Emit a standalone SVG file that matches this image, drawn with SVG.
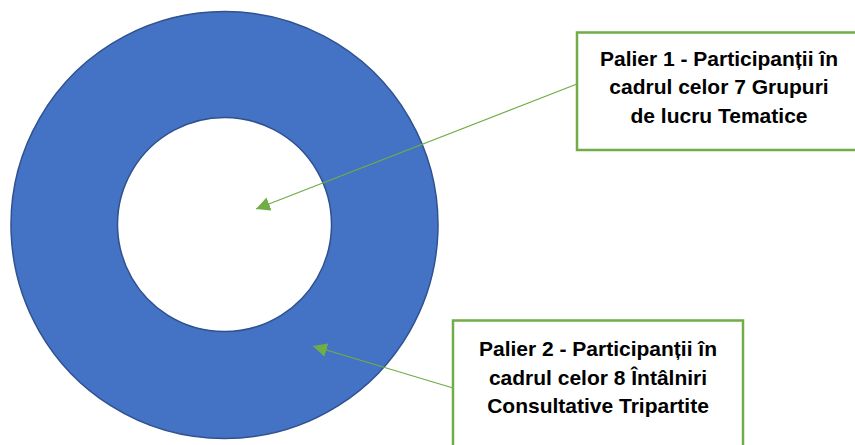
<svg xmlns="http://www.w3.org/2000/svg" width="855" height="445" viewBox="0 0 855 445">
<defs>
<style>
.lbl{font-family:"Liberation Sans",Arial,sans-serif;font-weight:bold;font-size:21px;fill:#000;text-anchor:middle}
.box{fill:#fff;stroke:#70AD47;stroke-width:2.5}
.conn{stroke:#70AD47;stroke-width:1.3;fill:none}
</style>
<marker id="ah" viewBox="0 0 10 10" refX="10" refY="5" markerWidth="14" markerHeight="14" markerUnits="userSpaceOnUse" orient="auto">
<path d="M0,0 L10,5 L0,10 Z" fill="#70AD47"/>
</marker>
</defs>
<g id="ring">
<path d="M224.5,11.5 A213.5,213.5 0 1 1 224.49,11.5 Z M224.5,117.5 A107,107 0 1 0 224.51,117.5 Z" fill="#4472C4" fill-rule="evenodd" stroke="#2F528F" stroke-width="1.5"/>
</g>
<g id="box1">
<rect class="box" x="577" y="32.5" width="290" height="117.5"/>
<text class="lbl" x="719" y="65.5">Palier 1 - Participanții în</text>
<text class="lbl" x="719" y="94">cadrul celor 7 Grupuri</text>
<text class="lbl" x="719" y="122.5">de lucru Tematice</text>
</g>
<g id="box2">
<rect class="box" x="453" y="320.5" width="290" height="140"/>
<text class="lbl" x="598" y="356">Palier 2 - Participanții în</text>
<text class="lbl" x="598" y="384.5">cadrul celor 8 Întâlniri</text>
<text class="lbl" x="598" y="413">Consultative Tripartite</text>
</g>
<g id="connectors">
<line class="conn" x1="577" y1="84" x2="256" y2="209" marker-end="url(#ah)"/>
<line class="conn" x1="453" y1="388" x2="313" y2="346" marker-end="url(#ah)"/>
</g>
</svg>
